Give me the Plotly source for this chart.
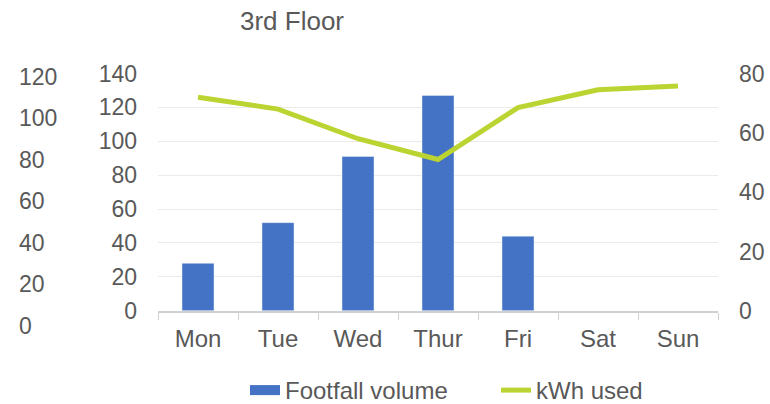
import plotly.graph_objects as go

days = ["Mon", "Tue", "Wed", "Thur", "Fri", "Sat", "Sun"]
footfall = [28, 52, 91, 127, 44, None, None]
kwh = [72, 68, 58, 51, 68.5, 74.5, 75.8]

FONT = "Liberation Sans, Arial, sans-serif"
GREY = "#595959"
BLUE = "#4472C4"
GREEN = "#BCD431"

# the snapshot squeezes the page a little vertically, so the figure is drawn
# a bit taller and every vertical position is given as a fraction of 404 px
W, H = 770, 413
R = 404


def fy(px):
    return 1 - px / R


fig = go.Figure()

fig.add_trace(go.Bar(
    x=days, y=footfall, name="Footfall volume",
    marker_color=BLUE, yaxis="y", showlegend=False, legendgroup="foot"
))
# legend entry for the bars, drawn as a wide block like the original
fig.add_trace(go.Scatter(
    x=[None], y=[None], name="Footfall volume", mode="lines",
    line=dict(color=BLUE, width=13), legendgroup="foot", hoverinfo="skip"
))
fig.add_trace(go.Scatter(
    x=days, y=kwh, name="kWh used", mode="lines",
    line=dict(color=GREEN, width=5), yaxis="y2"
))
# invisible trace so the outer left scale is drawn
fig.add_trace(go.Scatter(
    x=[0], y=[0], xaxis="x3", yaxis="y3", mode="markers",
    marker=dict(opacity=0), showlegend=False, hoverinfo="skip"
))

fig.update_layout(
    width=W, height=H,
    margin=dict(l=0, r=0, t=0, b=0),
    paper_bgcolor="white", plot_bgcolor="white",
    font=dict(family=FONT, size=23, color=GREY),
    title=dict(text="3rd Floor", x=292 / W, xanchor="center", y=fy(20), yanchor="middle",
               font=dict(size=26, color=GREY)),
    bargap=0.6,
    showlegend=True,
    legend=dict(orientation="h", x=245 / W, xanchor="left", y=fy(390), yanchor="middle",
                font=dict(size=24, color=GREY), entrywidth=206, entrywidthmode="pixels"),
    xaxis=dict(domain=[158 / W, 718 / W], type="category",
               showline=True, linecolor="#D0D0D0", linewidth=1.5,
               ticks="outside", tickson="boundaries", ticklen=7, tickcolor="#D0D0D0",
               showgrid=False, automargin=False, ticklabelstandoff=6,
               tickfont=dict(size=24)),
    yaxis=dict(domain=[fy(310), fy(73.3)], range=[0, 140], dtick=20,
               showgrid=True, gridcolor="#EBEBEB", gridwidth=1.3, zeroline=False,
               showline=False, automargin=False, ticklabelstandoff=20),
    yaxis2=dict(overlaying="y", side="right", anchor="x", range=[0, 80], dtick=20,
                showgrid=False, zeroline=False, showline=False, automargin=False,
                ticklabelstandoff=20),
    xaxis3=dict(domain=[0, 0.1], visible=False, anchor="y3"),
    yaxis3=dict(domain=[fy(325), fy(76.7)], range=[0, 120], dtick=20,
                anchor="free", position=18 / W, side="right",
                showgrid=False, zeroline=False, showline=False, automargin=False),
)

fig.write_html("out.html", config={"displayModeBar": False},
               post_script="document.body.style.margin='0px';")
